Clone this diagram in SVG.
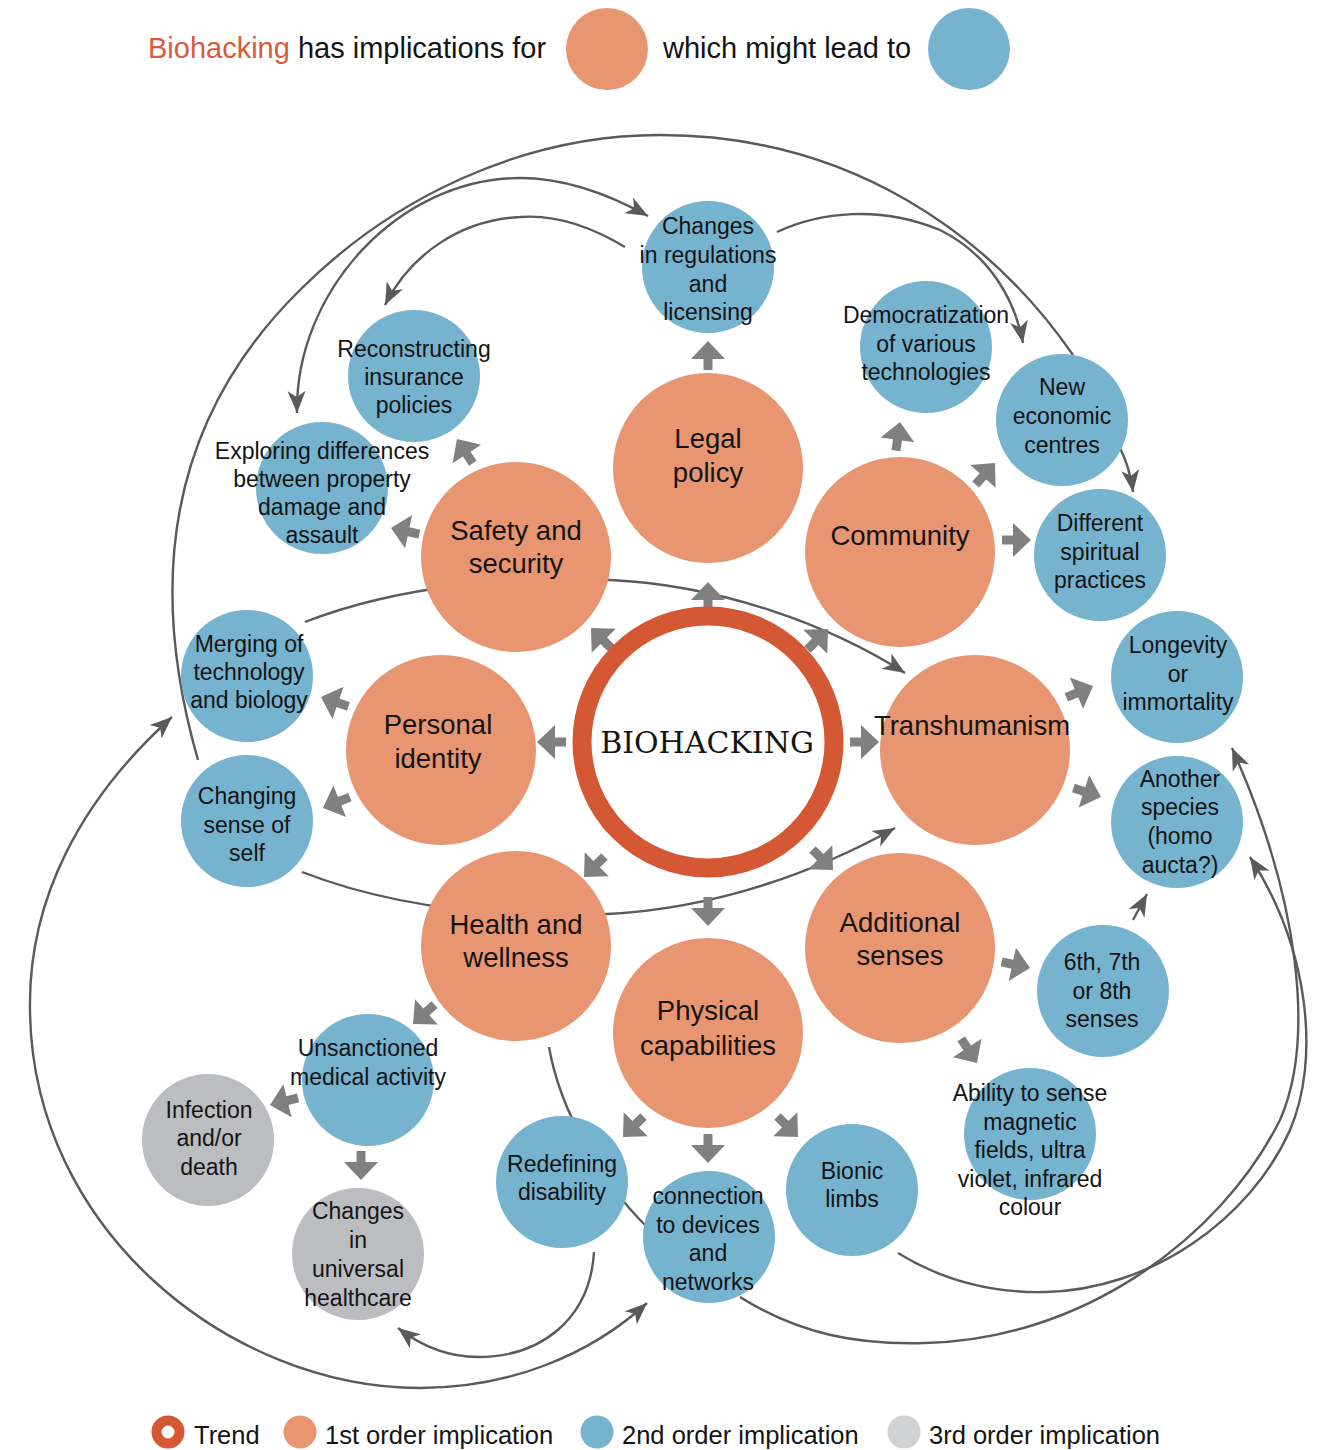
<svg xmlns="http://www.w3.org/2000/svg" xmlns:xlink="http://www.w3.org/1999/xlink" width="1317" height="1450" viewBox="0 0 1317 1450">
<style>
  .o { fill: #E89572; }
  .b { fill: #76B3CF; }
  .g { fill: #BCBDC1; }
  .t { font-family: "Liberation Sans", Arial, sans-serif; fill: #141414; text-anchor: middle; }
  .t1 { font-size: 27.5px; }
  .t2 { font-size: 23px; }
  .lg { font-family: "Liberation Sans", Arial, sans-serif; fill: #141414; font-size: 25.5px; }
  .hd { font-family: "Liberation Sans", Arial, sans-serif; fill: #141414; font-size: 29px; }
  .ln { fill: none; stroke: #5a5a5a; stroke-width: 2.4; }
  .ba { fill: #808080; }
</style>
<defs>
  <marker id="ah" viewBox="-24 -11 26 22" refX="0" refY="0" markerWidth="26" markerHeight="22" markerUnits="userSpaceOnUse" orient="auto">
    <path d="M0,0 L-22,-9 L-16,0 L-22,9 Z" fill="#5a5a5a"/>
  </marker>
  <marker id="ahs" viewBox="-24 -11 26 22" refX="0" refY="0" markerWidth="26" markerHeight="22" markerUnits="userSpaceOnUse" orient="auto-start-reverse">
    <path d="M0,0 L-22,-9 L-16,0 L-22,9 Z" fill="#5a5a5a"/>
  </marker>
  <path id="ba" class="ba" d="M0,0 L-18,-17 L-18,-4.5 L-29,-4.5 L-29,4.5 L-18,4.5 L-18,17 Z"/>
</defs>
<rect width="1317" height="1450" fill="#ffffff"/>

<!-- header -->
<g id="header">
  <text class="hd" x="148" y="58"><tspan fill="#D9593A">Biohacking</tspan> has implications for</text>
  <circle class="o" cx="607" cy="49" r="41"/>
  <text class="hd" x="663" y="58">which might lead to</text>
  <circle class="b" cx="969" cy="49" r="41"/>
</g>

<!-- connectors -->
<g id="connectors">
  <path class="ln" d="M198,760 C152,600 158,430 300,290 C390,200 520,135 660,135 C850,135 990,235 1073,355"/>
  <path class="ln" d="M297,413 C295,290 400,178 520,178 C565,178 610,195 648,216" marker-start="url(#ahs)" marker-end="url(#ah)"/>
  <path class="ln" d="M625,247 C580,220 545,215 520,217 C460,220 410,255 385,305" marker-end="url(#ah)"/>
  <path class="ln" d="M777,232 C820,212 880,205 940,230 C990,255 1015,300 1023,343" marker-end="url(#ah)"/>
  <path class="ln" d="M1120,448 Q1130,468 1133,492" marker-end="url(#ah)"/>
  <path class="ln" d="M1133,920 L1147,894" marker-end="url(#ah)"/>
  <path class="ln" d="M305,622 C400,585 520,575 610,580 C720,585 830,625 905,673" marker-end="url(#ah)"/>
  <path class="ln" d="M302,872 C400,910 510,918 607,914 C720,908 820,870 895,828" marker-end="url(#ah)"/>
  <path class="ln" d="M549,1047 C560,1110 600,1180 645,1225"/>
  <path class="ln" d="M594,1252 C590,1320 540,1357 478,1357 C445,1357 420,1345 398,1328" marker-end="url(#ah)"/>
  <path class="ln" d="M172,717 C80,800 28,900 30,1010 C32,1230 230,1388 420,1388 C510,1388 590,1355 647,1303" marker-start="url(#ahs)" marker-end="url(#ah)"/>
  <path class="ln" d="M740,1297 C800,1335 860,1345 925,1343 C1080,1340 1220,1240 1280,1120 C1315,1040 1300,900 1232,748" marker-end="url(#ah)"/>
  <path class="ln" d="M898,1253 C950,1285 1000,1293 1045,1292 C1150,1290 1250,1220 1290,1130 C1320,1060 1310,950 1250,857" marker-end="url(#ah)"/>

  <use xlink:href="#ba" href="#ba" transform="translate(708,582) rotate(-90)"/>
  <use xlink:href="#ba" href="#ba" transform="translate(591,628) rotate(-135)"/>
  <use xlink:href="#ba" href="#ba" transform="translate(828,629) rotate(-45)"/>
  <use xlink:href="#ba" href="#ba" transform="translate(537,742) rotate(180)"/>
  <use xlink:href="#ba" href="#ba" transform="translate(879,742) rotate(0)"/>
  <use xlink:href="#ba" href="#ba" transform="translate(584,877) rotate(135)"/>
  <use xlink:href="#ba" href="#ba" transform="translate(833,870) rotate(45)"/>
  <use xlink:href="#ba" href="#ba" transform="translate(708,926) rotate(90)"/>

  <use xlink:href="#ba" href="#ba" transform="translate(708,341) rotate(-90)"/>
  <use xlink:href="#ba" href="#ba" transform="translate(457,439) rotate(-123)"/>
  <use xlink:href="#ba" href="#ba" transform="translate(391,528) rotate(-168)"/>
  <use xlink:href="#ba" href="#ba" transform="translate(900,422) rotate(-82)"/>
  <use xlink:href="#ba" href="#ba" transform="translate(995,463) rotate(-48)"/>
  <use xlink:href="#ba" href="#ba" transform="translate(1031,540) rotate(0)"/>
  <use xlink:href="#ba" href="#ba" transform="translate(1093,686) rotate(-23)"/>
  <use xlink:href="#ba" href="#ba" transform="translate(1101,797) rotate(18)"/>
  <use xlink:href="#ba" href="#ba" transform="translate(1030,968) rotate(12)"/>
  <use xlink:href="#ba" href="#ba" transform="translate(977,1063) rotate(57)"/>
  <use xlink:href="#ba" href="#ba" transform="translate(623,1137) rotate(135)"/>
  <use xlink:href="#ba" href="#ba" transform="translate(708,1163) rotate(90)"/>
  <use xlink:href="#ba" href="#ba" transform="translate(798,1137) rotate(45)"/>
  <use xlink:href="#ba" href="#ba" transform="translate(413,1024) rotate(138)"/>
  <use xlink:href="#ba" href="#ba" transform="translate(321,697) rotate(-161)"/>
  <use xlink:href="#ba" href="#ba" transform="translate(323,808) rotate(158)"/>
  <use xlink:href="#ba" href="#ba" transform="translate(270,1105) rotate(166)"/>
  <use xlink:href="#ba" href="#ba" transform="translate(361,1180) rotate(90)"/>
</g>

<!-- trend -->
<g id="biohacking">
  <circle cx="708" cy="742" r="126" fill="#ffffff" stroke="#D55835" stroke-width="19"/>
  <text x="707" y="753" text-anchor="middle" font-family="'DejaVu Serif', 'Liberation Serif', serif" font-size="30" fill="#141414">BIOHACKING</text>
</g>

<!-- 1st order -->
<g id="legal-policy"><circle class="o" cx="708" cy="468" r="95"/><text class="t t1" x="708" y="448">Legal</text><text class="t t1" x="708" y="482">policy</text></g>
<g id="community"><circle class="o" cx="900" cy="552" r="95"/><text class="t t1" x="900" y="545">Community</text></g>
<g id="transhumanism"><circle class="o" cx="975" cy="750" r="95"/><text class="t t1" x="972" y="735">Transhumanism</text></g>
<g id="additional-senses"><circle class="o" cx="900" cy="948" r="95"/><text class="t t1" x="900" y="932">Additional</text><text class="t t1" x="900" y="965">senses</text></g>
<g id="physical-capabilities"><circle class="o" cx="708" cy="1033" r="95"/><text class="t t1" x="708" y="1020">Physical</text><text class="t t1" x="708" y="1055">capabilities</text></g>
<g id="health-wellness"><circle class="o" cx="516" cy="946" r="95"/><text class="t t1" x="516" y="934">Health and</text><text class="t t1" x="516" y="967">wellness</text></g>
<g id="personal-identity"><circle class="o" cx="441" cy="750" r="95"/><text class="t t1" x="438" y="734">Personal</text><text class="t t1" x="438" y="768">identity</text></g>
<g id="safety-security"><circle class="o" cx="516" cy="557" r="95"/><text class="t t1" x="516" y="540">Safety and</text><text class="t t1" x="516" y="573">security</text></g>

<!-- 2nd order -->
<g id="changes-regulations"><circle class="b" cx="708" cy="267" r="66"/><text class="t t2" x="708" y="234">Changes</text><text class="t t2" x="708" y="263">in regulations</text><text class="t t2" x="708" y="292">and</text><text class="t t2" x="708" y="320">licensing</text></g>
<g id="reconstructing-insurance"><circle class="b" cx="414" cy="376" r="66"/><text class="t t2" x="414" y="357">Reconstructing</text><text class="t t2" x="414" y="385">insurance</text><text class="t t2" x="414" y="413">policies</text></g>
<g id="exploring-differences"><circle class="b" cx="322" cy="488" r="66"/><text class="t t2" x="322" y="459">Exploring differences</text><text class="t t2" x="322" y="487">between property</text><text class="t t2" x="322" y="515">damage and</text><text class="t t2" x="322" y="543">assault</text></g>
<g id="democratization"><circle class="b" cx="926" cy="347" r="66"/><text class="t t2" x="926" y="323">Democratization</text><text class="t t2" x="926" y="352">of various</text><text class="t t2" x="926" y="380">technologies</text></g>
<g id="new-economic-centres"><circle class="b" cx="1062" cy="420" r="66"/><text class="t t2" x="1062" y="395">New</text><text class="t t2" x="1062" y="424">economic</text><text class="t t2" x="1062" y="453">centres</text></g>
<g id="different-spiritual"><circle class="b" cx="1100" cy="555" r="66"/><text class="t t2" x="1100" y="531">Different</text><text class="t t2" x="1100" y="560">spiritual</text><text class="t t2" x="1100" y="588">practices</text></g>
<g id="longevity"><circle class="b" cx="1177" cy="677" r="66"/><text class="t t2" x="1178" y="653">Longevity</text><text class="t t2" x="1178" y="682">or</text><text class="t t2" x="1178" y="710">immortality</text></g>
<g id="another-species"><circle class="b" cx="1177" cy="822" r="66"/><text class="t t2" x="1180" y="787">Another</text><text class="t t2" x="1180" y="815">species</text><text class="t t2" x="1180" y="844">(homo</text><text class="t t2" x="1180" y="873">aucta?)</text></g>
<g id="sixth-senses"><circle class="b" cx="1103" cy="991" r="66"/><text class="t t2" x="1102" y="970">6th, 7th</text><text class="t t2" x="1102" y="999">or 8th</text><text class="t t2" x="1102" y="1027">senses</text></g>
<g id="ability-to-sense"><circle class="b" cx="1030" cy="1134" r="66"/><text class="t t2" x="1030" y="1101">Ability to sense</text><text class="t t2" x="1030" y="1130">magnetic</text><text class="t t2" x="1030" y="1158">fields, ultra</text><text class="t t2" x="1030" y="1187">violet, infrared</text><text class="t t2" x="1030" y="1215">colour</text></g>
<g id="bionic-limbs"><circle class="b" cx="852" cy="1190" r="66"/><text class="t t2" x="852" y="1179">Bionic</text><text class="t t2" x="852" y="1207">limbs</text></g>
<g id="connection-devices"><circle class="b" cx="709" cy="1237" r="66"/><text class="t t2" x="708" y="1204">connection</text><text class="t t2" x="708" y="1233">to devices</text><text class="t t2" x="708" y="1261">and</text><text class="t t2" x="708" y="1290">networks</text></g>
<g id="redefining-disability"><circle class="b" cx="562" cy="1182" r="66"/><text class="t t2" x="562" y="1172">Redefining</text><text class="t t2" x="562" y="1200">disability</text></g>
<g id="unsanctioned-medical"><circle class="b" cx="368" cy="1080" r="66"/><text class="t t2" x="368" y="1056">Unsanctioned</text><text class="t t2" x="368" y="1085">medical activity</text></g>
<g id="merging-technology"><circle class="b" cx="247" cy="676" r="66"/><text class="t t2" x="249" y="652">Merging of</text><text class="t t2" x="249" y="680">technology</text><text class="t t2" x="249" y="708">and biology</text></g>
<g id="changing-sense-self"><circle class="b" cx="247" cy="821" r="66"/><text class="t t2" x="247" y="804">Changing</text><text class="t t2" x="247" y="833">sense of</text><text class="t t2" x="247" y="861">self</text></g>

<!-- 3rd order -->
<g id="infection-death"><circle class="g" cx="208" cy="1140" r="66"/><text class="t t2" x="209" y="1118">Infection</text><text class="t t2" x="209" y="1146">and/or</text><text class="t t2" x="209" y="1175">death</text></g>
<g id="universal-healthcare"><circle class="g" cx="358" cy="1254" r="66"/><text class="t t2" x="358" y="1219">Changes</text><text class="t t2" x="358" y="1248">in</text><text class="t t2" x="358" y="1277">universal</text><text class="t t2" x="358" y="1306">healthcare</text></g>

<!-- legend -->
<g id="legend">
  <circle cx="168" cy="1432" r="11.5" fill="#ffffff" stroke="#D55835" stroke-width="10"/>
  <text class="lg" x="194" y="1444">Trend</text>
  <circle class="o" cx="300" cy="1432" r="16.5"/>
  <text class="lg" x="325" y="1444">1st order implication</text>
  <circle class="b" cx="597" cy="1432" r="16.5"/>
  <text class="lg" x="622" y="1444">2nd order implication</text>
  <circle cx="904" cy="1432" r="16.5" fill="#D1D2D4"/>
  <text class="lg" x="929" y="1444">3rd order implication</text>
</g>
</svg>
